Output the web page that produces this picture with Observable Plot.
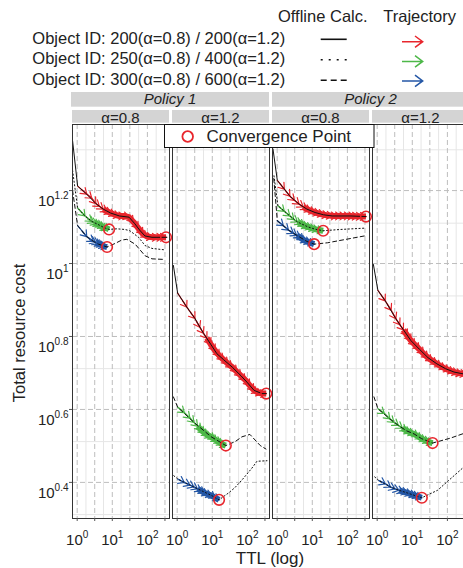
<!DOCTYPE html>
<html>
<head>
<meta charset="utf-8">
<script src="https://cdn.jsdelivr.net/npm/d3@7"></script>
<script src="https://cdn.jsdelivr.net/npm/@observablehq/plot@0.6"></script>
<style>
  html, body { margin: 0; padding: 0; background: #fff; overflow: hidden; }
  #wrap { position: relative; width: 463px; height: 568px; overflow: hidden;
          font-family: "Liberation Sans", Arial, Helvetica, sans-serif; }
  #legend { position: absolute; left: 0; top: 0; }
  #chart { position: absolute; left: 0; top: 88px; width: 470px; }
</style>
</head>
<body>
<div id="wrap">
  <svg id="legend" width="463" height="92"></svg>
  <div id="chart"></div>
</div>
<script>
// ---- facets -------------------------------------------------------------
const panels = ["Policy 1|α=0.8", "Policy 1|α=1.2", "Policy 2|α=0.8", "Policy 2|α=1.2"];
const policies = ["Policy 1", "Policy 2"];
const alphas = ["α=0.8", "α=1.2"];

// ---- series -------------------------------------------------------------
const seriesLabels = [
  "Object ID: 200(α=0.8) / 200(α=1.2)",
  "Object ID: 250(α=0.8) / 400(α=1.2)",
  "Object ID: 300(α=0.8) / 600(α=1.2)"
];
const seriesColors = ["#e8262d", "#4db848", "#2457a6"];

// ---- axis ticks (exponents of 10) --------------------------------------
const xGridExp = [0, 0.5, 1, 1.5, 2, 2.5];
const xMinorExp = [0.25, 0.75, 1.25, 1.75, 2.25];
const xLabelExp = [0, 1, 2];
const yTickExp = [0.4, 0.6, 0.8, 1, 1.2];
const yMinor = [2.05, 3.25, 5.15, 8.15, 12.9, 20.5];

// ---- offline calculation: [TTL, total resource cost] -------------------
const off_p1_a08_s1 = [[0.74,21.7],[1.03,16.3],[1.87,15.5],[3.4,14.6],[5.5,14.1],[9,13.75],[16,13.5],[30,13.4],[44,12.85],[60,12.35],[85,11.9],[135,11.8],[360,11.8]];
const off_p1_a08_s2 = [[0.74,18.0],[1.03,14.2],[1.67,13.5],[2.6,13.05],[3.6,12.85],[5.8,12.55],[8.1,12.4],[13.5,12.45],[22.8,12.4],[31.6,12.3],[56,11.8],[86,11.2],[135,11.0],[316,10.9]];
const off_p1_a08_s3 = [[0.74,15.85],[1.03,12.7],[1.87,11.85],[2.9,11.5],[4.03,11.3],[7.1,11.1],[12,11.35],[18.7,11.6],[26,11.65],[44.8,11.3],[86,10.5],[135,10.3],[316,10.26]];

const off_p1_a12_s1 = [[0.78,9.88],[1.03,8.3],[1.87,7.6],[3.2,7.07],[5.6,6.44],[9,6.01],[13.5,5.66],[21,5.45],[37,5.2],[66,4.92],[97,4.73],[155,4.49],[260,4.40],[344,4.40]];
const off_p1_a12_s2 = [[0.78,4.31],[1.03,4.04],[3.0,3.67],[9.3,3.35],[24.3,3.17],[45,3.25],[70,3.35],[118,3.40],[232,3.17],[338,3.10]];
const off_p1_a12_s3 = [[0.8,2.62],[1.08,2.56],[3.0,2.44],[9.7,2.31],[15.6,2.25],[29,2.35],[44,2.43],[70,2.55],[135,2.75],[187,2.87],[361,2.88]];

const off_p2_a08_s1 = [[0.76,20.6],[1.01,16.9],[1.6,16.0],[2.3,15.3],[4.2,14.55],[7,14.1],[12,13.8],[21,13.6],[37,13.5],[126,13.5],[338,13.45]];
const off_p2_a08_s2 = [[0.81,17.4],[1.05,14.4],[2.3,13.5],[3.8,13.0],[7.5,12.6],[12,12.42],[20.4,12.3],[65,12.4],[302,12.5]];
const off_p2_a08_s3 = [[0.8,17.1],[1.01,13.1],[2.1,12.35],[3.6,11.95],[7,11.5],[11.3,11.3],[27.2,11.4],[302,11.9]];

const off_p2_a12_s1 = [[0.78,9.94],[1.05,8.44],[1.7,7.9],[3.4,7.06],[5.6,6.58],[9.1,6.15],[16,5.82],[28,5.52],[50,5.31],[88,5.15],[155,5.04],[260,4.99],[440,4.95]];
const off_p2_a12_s2 = [[0.81,4.31],[1.05,4.0],[2.3,3.75],[4,3.6],[6.8,3.48],[11.3,3.41],[18.5,3.31],[37.8,3.22],[120,3.32],[316,3.43],[440,3.47]];
const off_p2_a12_s3 = [[0.85,2.6],[1.13,2.54],[2.4,2.44],[4.2,2.39],[7.2,2.35],[12.2,2.31],[18.7,2.28],[52.5,2.39],[296,2.77],[440,2.88]];

// ---- TTL trajectories: [TTL, cost] per step, last step = convergence ----
const trj_p1_a08_s1 = [[1.03,16.3],[1.87,15.5],[2.6,15.1],[3.4,14.6],[4.3,14.35],[5.5,14.1],[7,13.9],[9,13.75],[12,13.6],[16,13.5],[22,13.5],[30,13.4],[40,13.0],[55,12.5],[75,12.05],[100,11.85],[140,11.8],[200,11.8],[270,11.8],[340,11.8]];
const trj_p1_a08_s2 = [[1.03,14.2],[1.67,13.5],[2.6,13.05],[3.0,12.95],[3.6,12.85],[4.3,12.75],[5,12.65],[5.8,12.55],[6.7,12.5],[7.5,12.45],[8.1,12.4]];
const trj_p1_a08_s3 = [[1.03,12.7],[1.87,11.85],[2.9,11.5],[3.4,11.42],[4,11.33],[4.7,11.25],[5.4,11.18],[6.2,11.13],[7.1,11.1]];

const trj_p1_a12_s1 = [[1.03,8.3],[1.87,7.6],[3.2,7.07],[4.4,6.69],[5.6,6.44],[7,6.24],[9,6.01],[12,5.77],[16,5.58],[21,5.45],[28,5.31],[37,5.2],[50,5.05],[66,4.92],[88,4.79],[117,4.63],[155,4.49],[200,4.43],[260,4.40],[344,4.40]];
const trj_p1_a12_s2 = [[1.03,4.04],[1.6,3.90],[2.3,3.77],[3.0,3.67],[3.8,3.58],[4.8,3.50],[6,3.43],[7.5,3.38],[9.3,3.35],[11.5,3.30],[14,3.26],[17,3.22],[20,3.19],[24.3,3.17]];
const trj_p1_a12_s3 = [[1.08,2.56],[1.6,2.51],[2.3,2.47],[3.0,2.44],[3.8,2.41],[4.8,2.38],[6,2.35],[7.5,2.33],[9.7,2.31],[12,2.28],[15.6,2.25]];

const trj_p2_a08_s1 = [[1.01,16.9],[1.6,16.0],[2.3,15.3],[3.1,14.9],[4.2,14.55],[5.5,14.3],[7,14.1],[9,13.95],[12,13.8],[16,13.7],[21,13.6],[28,13.55],[37,13.5],[50,13.5],[66,13.5],[88,13.5],[117,13.5],[155,13.48],[200,13.47],[260,13.46],[338,13.45]];
const trj_p2_a08_s2 = [[1.05,14.4],[1.6,13.9],[2.3,13.5],[3.0,13.2],[3.8,13.0],[4.8,12.85],[6,12.7],[7.5,12.6],[9.5,12.5],[12,12.42],[15,12.36],[20.4,12.3]];
const trj_p2_a08_s3 = [[1.01,13.1],[1.5,12.7],[2.1,12.35],[2.9,12.1],[3.6,11.95],[4.5,11.8],[5.6,11.6],[7,11.5],[8.8,11.4],[11.3,11.3]];

const trj_p2_a12_s1 = [[1.05,8.44],[1.7,7.9],[2.5,7.45],[3.4,7.06],[4.4,6.8],[5.6,6.58],[7.2,6.35],[9.1,6.15],[12,5.98],[16,5.82],[21,5.66],[28,5.52],[37,5.41],[50,5.31],[66,5.22],[88,5.15],[117,5.09],[155,5.04],[200,5.01],[260,4.99],[340,4.97],[440,4.95]];
const trj_p2_a12_s2 = [[1.05,4.0],[1.6,3.88],[2.3,3.75],[3.0,3.67],[4,3.6],[5.2,3.54],[6.8,3.48],[8.8,3.44],[11.3,3.41],[14.5,3.36],[18.5,3.31],[24,3.27],[30,3.24],[37.8,3.22]];
const trj_p2_a12_s3 = [[1.13,2.54],[1.7,2.49],[2.4,2.44],[3.2,2.41],[4.2,2.39],[5.5,2.37],[7.2,2.35],[9.4,2.33],[12.2,2.31],[15,2.295],[18.7,2.28]];

// TTL from which the steps crowd into a solid band (same order as below)
const bandFromTTL = [5.5, 3.0, 3.4, 7, 3.8, 3.8, 5.5, 3.8, 3.6, 5.6, 5.2, 4.2];

// ---- assemble tables ----------------------------------------------------
const curves = [
  [panels[0], 0, off_p1_a08_s1, trj_p1_a08_s1],
  [panels[0], 1, off_p1_a08_s2, trj_p1_a08_s2],
  [panels[0], 2, off_p1_a08_s3, trj_p1_a08_s3],
  [panels[1], 0, off_p1_a12_s1, trj_p1_a12_s1],
  [panels[1], 1, off_p1_a12_s2, trj_p1_a12_s2],
  [panels[1], 2, off_p1_a12_s3, trj_p1_a12_s3],
  [panels[2], 0, off_p2_a08_s1, trj_p2_a08_s1],
  [panels[2], 1, off_p2_a08_s2, trj_p2_a08_s2],
  [panels[2], 2, off_p2_a08_s3, trj_p2_a08_s3],
  [panels[3], 0, off_p2_a12_s1, trj_p2_a12_s1],
  [panels[3], 1, off_p2_a12_s2, trj_p2_a12_s2],
  [panels[3], 2, off_p2_a12_s3, trj_p2_a12_s3]
];

// line type of the offline curve in each panel
function lineStyle(panel, s) {
  if (s === 0) return "solid";
  const a12 = panel.endsWith("1.2");
  return ((s === 1) !== a12) ? "dotted" : "dashed";
}

const lineRows = [], trajRows = [], bandRows = [], convRows = [];
curves.forEach(([panel, s, off, trj], k) => {
  const key = panel + "#" + s;
  const style = lineStyle(panel, s);
  off.forEach(([ttl, cost]) => lineRows.push({panel, key, style, ttl, cost}));
  trj.forEach(([ttl, cost], i) => {
    const row = {panel, key, ttl, cost, color: seriesColors[s], i, prev: i ? trj[i - 1] : null};
    trajRows.push(row);
    if (ttl >= bandFromTTL[k]) bandRows.push(row);
  });
  const last = trj[trj.length - 1];
  convRows.push({panel, ttl: last[0], cost: last[1]});
});

const FONT = "'Liberation Sans', Arial, Helvetica, sans-serif";
const W = 470, H = 480;
const baseOptions = {
  width: W, height: H,
  marginTop: 36, marginBottom: 50, marginLeft: 71, marginRight: 0,
  style: {fontFamily: FONT, fontSize: "15px", color: "#222", background: "white", maxWidth: "none"},
  fx: {domain: panels, paddingInner: 0.03, paddingOuter: 0, axis: null, label: null},
  x: {type: "log", domain: [0.736, 426]},
  y: {type: "log", domain: [2.0, 24.05]},
  color: {type: "identity"}
};

// screen-space heading of each trajectory step
const probe = Plot.plot({...baseOptions, marks: [Plot.line(lineRows, {x: "ttl", y: "cost", z: "key", fx: "panel"})]});
const sx = probe.scale("x"), sy = probe.scale("y");
const arrowRows = trajRows.filter(d => d.prev).map(d => {
  const dx = sx.apply(d.ttl) - sx.apply(d.prev[0]);
  const dy = sy.apply(d.cost) - sy.apply(d.prev[1]);
  return {...d, rot: Math.atan2(dx, -dy) * 180 / Math.PI};
});

// open arrowhead with a short shaft
const chevron = {
  draw(context, l) {
    const hl = 5.5, hw = 3.9;
    context.moveTo(0, 0);
    context.lineTo(0, -l);
    context.moveTo(-hw, hl - l);
    context.lineTo(0, -l);
    context.lineTo(hw, hl - l);
  }
};

const expFormat = d => "10^" + String(Math.round(Math.log10(d) * 10) / 10);
const dashes = {solid: null, dotted: "1.2,2.4", dashed: "4,3"};

const plot = Plot.plot({
  ...baseOptions,
  marks: [
    Plot.ruleX(xMinorExp.map(e => 10 ** e), {stroke: "#e6e6e6", strokeWidth: 1}),
    Plot.ruleY(yMinor, {stroke: "#e6e6e6", strokeWidth: 1}),
    Plot.ruleX(xGridExp.map(e => 10 ** e), {stroke: "#bdbdbd", strokeWidth: 1, strokeDasharray: "5,3"}),
    Plot.ruleY(yTickExp.map(e => 10 ** e), {stroke: "#bdbdbd", strokeWidth: 1, strokeDasharray: "5,3"}),
    Plot.line(bandRows, {x: "ttl", y: "cost", z: "key", fx: "panel", stroke: "color", strokeWidth: 6, strokeLinecap: "butt"}),
    Plot.line(trajRows, {x: "ttl", y: "cost", z: "key", fx: "panel", stroke: "color", strokeWidth: 1.3}),
    Plot.vector(arrowRows, {x: "ttl", y: "cost", fx: "panel", rotate: "rot", length: 7, anchor: "end",
                            stroke: "color", strokeWidth: 1.2, shape: chevron}),
    ...["solid", "dotted", "dashed"].map(st =>
      Plot.line(lineRows.filter(d => d.style === st),
        {x: "ttl", y: "cost", z: "key", fx: "panel", stroke: "#111", strokeWidth: 1,
         strokeDasharray: dashes[st]})),
    Plot.dot(convRows, {x: "ttl", y: "cost", fx: "panel", r: 5.3, stroke: "#e8262d", strokeWidth: 1.6, fill: "none"}),
    Plot.frame({stroke: "#333", strokeWidth: 1}),
    Plot.axisY({ticks: yTickExp.map(e => 10 ** e), tickSize: 3, tickPadding: 1, tickFormat: expFormat,
                label: null, fontSize: 15, stroke: "#555"}),
    Plot.axisX({ticks: xGridExp.map(e => 10 ** e), tickSize: 3, tickFormat: () => "", label: null, stroke: "#555"}),
    Plot.axisX({ticks: xLabelExp.map(e => 10 ** e), tickSize: 0, tickPadding: 15.5, tickFormat: expFormat,
                label: null, fontSize: 15})
  ]
});

document.getElementById("chart").appendChild(plot);

// ---- exponent labels as superscripts ------------------------------------
const svg = d3.select(plot);
function superscript(sel, mainDy) {
  sel.each(function () {
    const t = d3.select(this);
    const s = this.textContent;
    if (!s.includes("^")) return;
    const [base, exp] = s.split("^");
    t.text(null);
    if (mainDy != null) t.attr("dy", mainDy);
    t.append("tspan").text(base);
    t.append("tspan").attr("dy", -7).attr("font-size", 10).text(exp);
  });
}
superscript(svg.selectAll('g[aria-label="y-axis tick label"] text'), 10.5);
superscript(svg.selectAll('g[aria-label="x-axis tick label"] text'), null);

// ---- facet strips -------------------------------------------------------
const fx = plot.scale("fx");
const bw = fx.bandwidth;
const strips = svg.append("g").attr("font-family", FONT).attr("fill", "#222").attr("font-size", 15)
  .attr("text-anchor", "middle");
policies.forEach((p, j) => {
  const x0 = fx.apply(panels[2 * j]) - (j === 0 ? 1 : 0);
  const x1 = fx.apply(panels[2 * j + 1]) + bw;
  strips.append("rect").attr("x", x0).attr("y", 4).attr("width", x1 - x0).attr("height", 14.7).attr("fill", "#d4d4d4");
  strips.append("text").attr("x", (x0 + x1) / 2).attr("y", 16.3).attr("font-style", "italic").text(p);
});
panels.forEach((k, i) => {
  const x0 = fx.apply(k);
  strips.append("rect").attr("x", x0).attr("y", 22).attr("width", bw).attr("height", 12.7).attr("fill", "#d4d4d4");
  strips.append("text").attr("x", x0 + bw / 2).attr("y", 34.6).text(alphas[i % 2]);
});

// ---- convergence point key ----------------------------------------------
const key = svg.append("g").attr("text-anchor", "start");
key.append("rect").attr("x", 164.5).attr("y", 36.5).attr("width", 209.5).attr("height", 23)
  .attr("fill", "white").attr("stroke", "#111").attr("stroke-width", 1);
key.append("circle").attr("cx", 187.7).attr("cy", 48.5).attr("r", 5.3)
  .attr("fill", "none").attr("stroke", "#e8262d").attr("stroke-width", 1.8);
key.append("text").attr("x", 206.5).attr("y", 53.8).attr("font-size", 17).attr("fill", "#222")
  .attr("font-family", FONT).attr("text-anchor", "start").text("Convergence Point");

// ---- axis titles --------------------------------------------------------
svg.append("text").attr("transform", "translate(25,245) rotate(-90)").attr("text-anchor", "middle")
  .attr("font-size", 16.5).attr("fill", "#222").text("Total resource cost");
svg.append("text").attr("x", 270).attr("y", 476).attr("text-anchor", "middle")
  .attr("font-size", 17).attr("fill", "#222").text("TTL (log)");

// ---- series key ---------------------------------------------------------
const lg = d3.select("#legend").attr("font-family", FONT).attr("font-size", 16.5).attr("fill", "#222");
lg.append("text").attr("x", 278).attr("y", 22.3).text("Offline Calc.");
lg.append("text").attr("x", 383.3).attr("y", 22.3).text("Trajectory");
const rowBase = [43.5, 64, 84.5];
const legendDash = [null, "2,6", "6,4"];
seriesLabels.forEach((label, i) => {
  const yb = rowBase[i];
  lg.append("text").attr("x", 32.3).attr("y", yb).text(label);
  lg.append("line").attr("x1", 320.7).attr("x2", 346.7).attr("y1", yb - 4.2).attr("y2", yb - 4.2)
    .attr("stroke", "#111").attr("stroke-width", 1.6).attr("stroke-dasharray", legendDash[i]);
  const ya = yb - 1.8 + (i === 2 ? -1.8 : i === 1 ? -0.8 : 0);
  lg.append("path")
    .attr("d", `M402,${ya}H422.7M415,${ya - 5.7}L422.7,${ya}L415,${ya + 5.7}`)
    .attr("fill", "none").attr("stroke", seriesColors[i]).attr("stroke-width", 1.5);
});
</script>
</body>
</html>
